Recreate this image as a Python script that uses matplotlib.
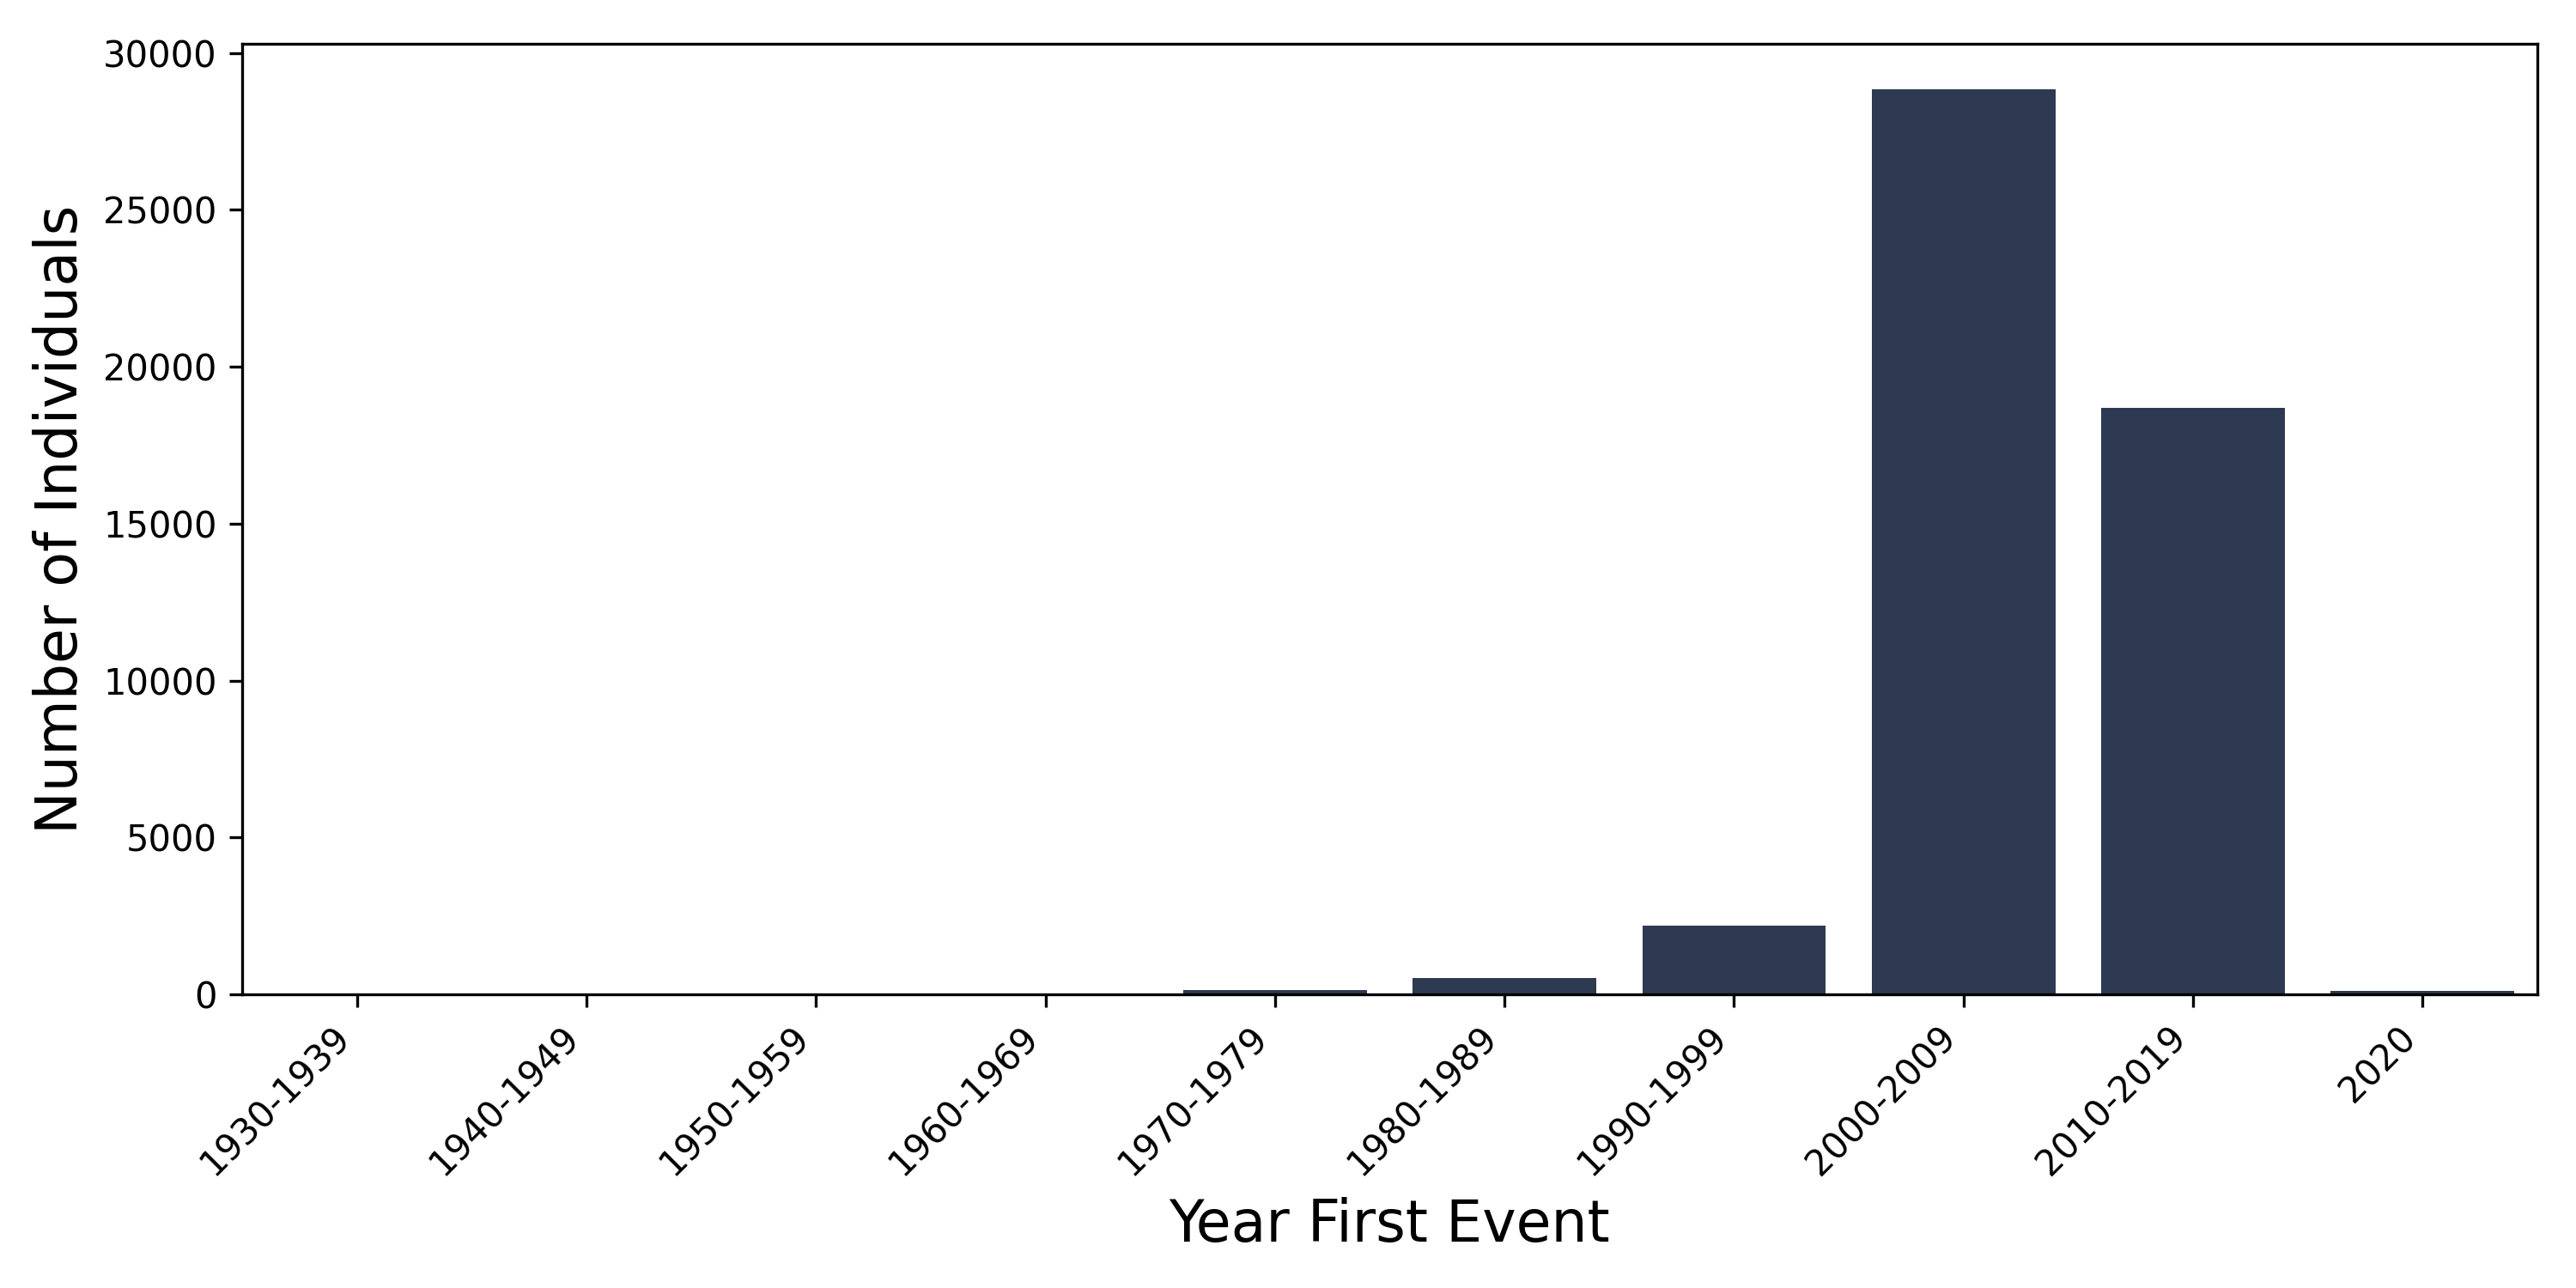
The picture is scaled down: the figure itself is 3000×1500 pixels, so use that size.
import matplotlib
matplotlib.use("Agg")
import matplotlib.pyplot as plt
import numpy as np

decades = ['1930-1939', '1940-1949', '1950-1959', '1960-1969', '1970-1979',
           '1980-1989', '1990-1999', '2000-2009', '2010-2019', '2020']
counts = [2, 3, 8, 40, 140, 510, 2200, 28850, 18700, 100]

fig, ax = plt.subplots(figsize=(10, 5), dpi=300)
x = np.arange(len(decades))
ax.bar(x, counts, width=0.8, color='#2d3a52')

ax.set_xlim(-0.5, len(decades) - 0.5)
ax.set_xticks(x)
ax.set_xticklabels(decades, rotation=45, ha='right', fontsize=10)
ax.tick_params(axis='y', labelsize=10)
ax.set_xlabel('Year First Event', fontsize=16)
ax.set_ylabel('Number of Individuals', fontsize=16)

fig.subplots_adjust(left=0.094, right=0.985, top=0.966, bottom=0.228)
fig.savefig('out.png', dpi=300)
